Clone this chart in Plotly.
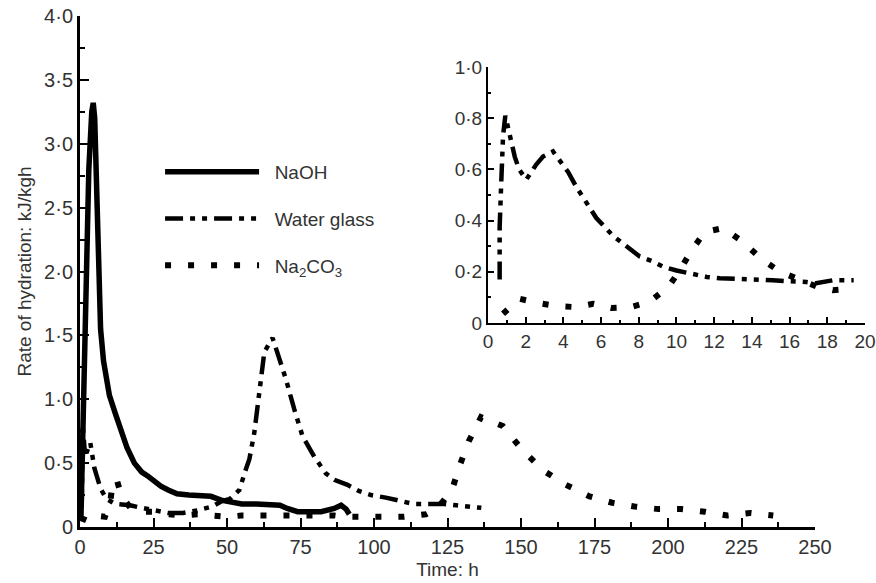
import plotly.graph_objects as go

# main chart (time in h, rate in kJ/kgh)
naoh_t = [0.3, 1, 2, 3, 4, 4.5, 5, 5.5, 6, 7, 8, 10, 12, 14, 16, 18.5, 21, 23, 25, 27.5, 30,
          33, 37, 41, 44.5, 48, 51.5, 55, 60, 65, 68, 70.5, 74, 78, 82, 86.5, 88.8, 90.5, 91.6]
naoh_y = [0.05, 0.9, 1.9, 2.8, 3.25, 3.32, 3.2, 2.85, 2.3, 1.55, 1.3, 1.03, 0.89, 0.75, 0.62, 0.5, 0.43,
          0.4, 0.36, 0.32, 0.29, 0.26, 0.25, 0.25, 0.24, 0.21, 0.19, 0.18, 0.18, 0.18, 0.17, 0.145,
          0.12, 0.12, 0.12, 0.145, 0.17, 0.14, 0.1]

wg_t = [0.6, 0.9, 1.6, 2.2, 3.5, 4.9, 7, 9, 12, 17, 21, 25, 30, 35, 40, 45, 48, 51, 54.2, 56.4,
        57.6, 59.3, 60.4, 61.6, 62.7, 65.5, 67.2, 70, 72.9, 75.7, 79.7, 83.6, 86.5, 91, 95, 99,
        104, 109, 113.6, 118, 124, 128, 132, 136.5]
wg_y = [0.15, 0.8, 0.6, 0.58, 0.66, 0.46, 0.3, 0.22, 0.18, 0.17, 0.15, 0.13, 0.11, 0.11, 0.13,
        0.16, 0.2, 0.22, 0.29, 0.45, 0.53, 0.74, 0.95, 1.18, 1.37, 1.48, 1.36, 1.16, 0.92, 0.71,
        0.55, 0.42, 0.37, 0.33, 0.28, 0.25, 0.23, 0.2, 0.18, 0.18, 0.18, 0.17, 0.16, 0.15]

na2co3_t = [0.8, 1.7, 4.9, 8.5, 10.3, 11.1, 12.5, 13.9, 15.5, 17.5, 21, 25, 30, 35, 40, 45, 50,
            55, 60, 65, 70, 75, 78.6, 82, 86.5, 90, 94.4, 101.8, 110, 117.7, 121, 123.5, 126.8,
            129.3, 132.2, 136.4, 143.8, 150.2, 157.7, 165.3, 173.3, 181, 188.6, 196.8, 204.5,
            212.5, 220.2, 228, 235.8]
na2co3_y = [0.04, 0.09, 0.09, 0.08, 0.2, 0.34, 0.37, 0.26, 0.2, 0.14, 0.12, 0.12, 0.1, 0.09, 0.1,
            0.09, 0.08, 0.09, 0.09, 0.09, 0.09, 0.1, 0.1, 0.1, 0.09, 0.08, 0.08, 0.08, 0.08, 0.1,
            0.14, 0.2, 0.31, 0.49, 0.67, 0.86, 0.79, 0.61, 0.44, 0.33, 0.24, 0.19, 0.16, 0.14, 0.14,
            0.12, 0.09, 0.11, 0.09]

# inset (first 20 h)
wg_t_in = [0.62, 0.62, 0.7, 0.8, 0.92, 1.15, 1.42, 1.65, 2.03, 2.57, 2.92, 3.45, 4.25, 4.7, 5.13,
           5.75, 6.64, 7.35, 8.05, 8.76, 9.3, 10, 10.9, 11.6, 12.3, 13.4, 14.25, 15.1, 15.8,
           16.55, 16.9, 17.4, 18.3, 19.4]
wg_y_in = [0.17, 0.375, 0.54, 0.73, 0.81, 0.74, 0.65, 0.6, 0.56, 0.62, 0.65, 0.67, 0.59, 0.53,
           0.48, 0.41, 0.34, 0.3, 0.26, 0.24, 0.22, 0.205, 0.19, 0.18, 0.175, 0.173, 0.17, 0.167,
           0.164, 0.164, 0.16, 0.155, 0.167, 0.167]

na2co3_t_in = [0.8, 1.68, 2.65, 3.63, 4.7, 5.58, 6.55, 7.56, 8.55, 9.56, 10.18, 10.8, 11.5, 12.48,
               13.54, 14.5, 15.5, 16.46, 17.43, 18.3, 19.3]
na2co3_y_in = [0.036, 0.095, 0.078, 0.066, 0.062, 0.075, 0.059, 0.062, 0.082, 0.14, 0.206, 0.284,
               0.355, 0.371, 0.316, 0.25, 0.2, 0.17, 0.143, 0.128, 0.134]

main_y_ticks = [0, 0.5, 1.0, 1.5, 2.0, 2.5, 3.0, 3.5, 4.0]
main_y_text = ["0", "0·5", "1·0", "1·5", "2·0", "2·5", "3·0", "3·5", "4·0"]
inset_y_ticks = [0, 0.2, 0.4, 0.6, 0.8, 1.0]
inset_y_text = ["0", "0·2", "0·4", "0·6", "0·8", "1·0"]

FONT = "Arial, Liberation Sans, sans-serif"
GREY = "#333333"

solid = dict(color="black", width=5.5)
dashdotdot = dict(color="black", width=4.5, dash="18px,7px,5px,7px,5px,7px")
dotted = dict(color="black", width=6, dash="6px,17px")

fig = go.Figure()
fig.add_trace(go.Scatter(x=naoh_t, y=naoh_y, mode="lines", line=solid,
                         name="&nbsp;&nbsp;NaOH", legendgroup="a"))
fig.add_trace(go.Scatter(x=wg_t, y=wg_y, mode="lines", line=dashdotdot,
                         name="&nbsp;&nbsp;Water glass", legendgroup="b"))
fig.add_trace(go.Scatter(x=na2co3_t, y=na2co3_y, mode="lines", line=dotted,
                         name="&nbsp;&nbsp;Na<sub>2</sub>CO<sub>3</sub>", legendgroup="c"))
fig.add_trace(go.Scatter(x=wg_t_in, y=wg_y_in, mode="lines", line=dashdotdot,
                         xaxis="x2", yaxis="y2", showlegend=False))
fig.add_trace(go.Scatter(x=na2co3_t_in, y=na2co3_y_in, mode="lines", line=dotted,
                         xaxis="x2", yaxis="y2", showlegend=False))

axis_common = dict(showline=True, linecolor="black", showgrid=False, zeroline=False,
                   automargin=False, ticks="inside", tickcolor="black",
                   ticklabeloverflow="allow", tickfont=dict(size=20, color=GREY))

fig.update_layout(
    width=876, height=583,
    margin=dict(l=80, r=11, t=16, b=56),
    plot_bgcolor="white", paper_bgcolor="white",
    font=dict(family=FONT, color=GREY),
    xaxis=dict(axis_common, domain=[0, 0.9363], range=[0, 250], dtick=25, tick0=0,
               linewidth=3, ticklen=9, tickwidth=2,
               minor=dict(ticks="inside", dtick=12.5, tick0=0, ticklen=5, tickwidth=2,
                          tickcolor="black"),
               title=dict(text="Time: h", font=dict(size=19, color=GREY), standoff=6)),
    yaxis=dict(axis_common, domain=[0, 1], range=[0, 4], tickmode="array",
               tickvals=main_y_ticks, ticktext=main_y_text,
               linewidth=3, ticklen=9, tickwidth=2,
               minor=dict(ticks="inside", tickmode="linear", dtick=0.25, tick0=0, ticklen=5,
                          tickwidth=2, tickcolor="black"),
               title=dict(text="Rate of hydration: kJ/kgh", font=dict(size=19, color=GREY),
                          standoff=8)),
    xaxis2=dict(axis_common, domain=[0.5197, 1.0], range=[0, 20], dtick=2, tick0=0,
                anchor="y2", linewidth=2, ticklen=6, tickwidth=1.5,
                tickfont=dict(size=19, color=GREY),
                minor=dict(ticks="inside", dtick=1, tick0=0, ticklen=3, tickwidth=1.5,
                           tickcolor="black")),
    yaxis2=dict(axis_common, domain=[0.3992, 0.9002], range=[0, 1], anchor="x2",
                tickmode="array", tickvals=inset_y_ticks, ticktext=inset_y_text,
                linewidth=2, ticklen=6, tickwidth=1.5,
                tickfont=dict(size=19, color=GREY),
                minor=dict(ticks="inside", tickmode="linear", dtick=0.1, tick0=0, ticklen=3,
                           tickwidth=1.5, tickcolor="black")),
    legend=dict(x=0.102, y=0.732, xanchor="left", yanchor="top", bgcolor="rgba(0,0,0,0)",
                font=dict(size=19, color=GREY), itemwidth=94, tracegroupgap=19),
    showlegend=True,
)

# drop the default 8px page margin so the figure sits at the window's top-left corner
fig.write_html("out.html", config={"displayModeBar": False},
               post_script="document.body.style.margin = '0';")
